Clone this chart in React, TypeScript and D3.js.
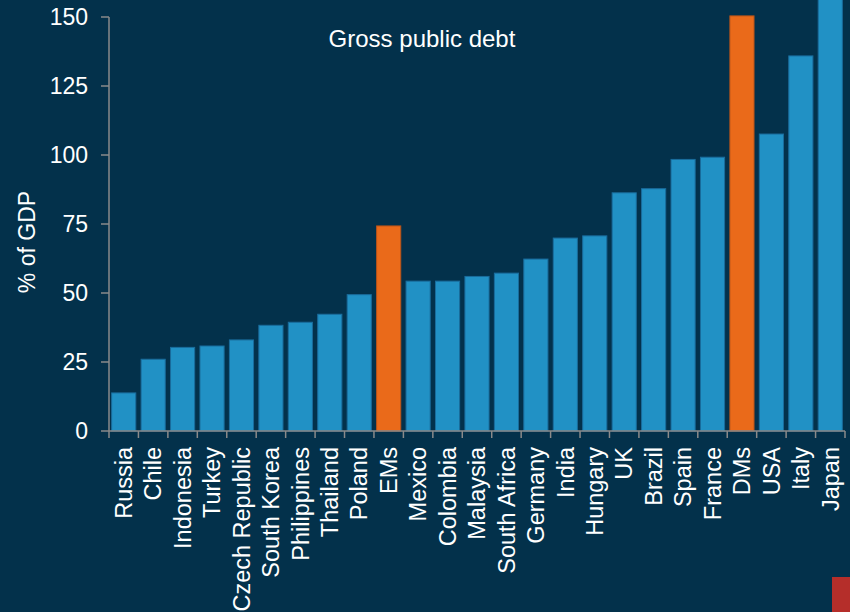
import React from "react";
import * as d3 from "d3";

const categories = ["Russia","Chile","Indonesia","Turkey","Czech Republic","South Korea","Philippines","Thailand","Poland","EMs","Mexico","Colombia","Malaysia","South Africa","Germany","India","Hungary","UK","Brazil","Spain","France","DMs","USA","Italy","Japan"];
const values = [13.8,26.0,30.3,30.8,33.0,38.3,39.4,42.3,49.4,74.3,54.3,54.3,56.0,57.2,62.3,69.9,70.7,86.3,87.8,98.4,99.2,150.4,107.6,135.9,236];
const highlighted = ["EMs","DMs"];
const yTicks = [0,25,50,75,100,125,150];
const title = "Gross public debt";
const yLabel = "% of GDP";

const W = 850, H = 612;
const BG = "#03314b";
const BLUE = "#2191c5";
const ORANGE = "#ea6a1a";
const AXIS = "#8a8a8a";
const FONT = "'Liberation Sans', Arial, sans-serif";

export default function App() {
  const x = d3.scaleBand<string>().domain(categories).range([109, 845]).paddingInner(0.18).paddingOuter(0.09);
  const y = d3.scaleLinear().domain([0, 150]).range([431, 17]);
  const step = x.step();
  const boundaries = categories.map((c) => (x(c) as number) - (step - x.bandwidth()) / 2);
  boundaries.push(845);
  return (
    <svg width={W} height={H} style={{ position: "absolute", left: 0, top: 0, display: "block" }} fontFamily={FONT}>
      <rect x={0} y={0} width={W} height={H} fill={BG} />
      {categories.map((c, i) => {
        const v = values[i];
        const top = y(v);
        return (
          <rect key={c} x={x(c)} y={top} width={x.bandwidth()} height={y(0) - top}
            fill={highlighted.includes(c) ? ORANGE : BLUE}
            stroke={highlighted.includes(c) ? "#b8531a" : "#1a6c9c"} strokeWidth={1} />
        );
      })}
      {/* y axis */}
      <line x1={109} x2={109} y1={y(150)} y2={y(0)} stroke={AXIS} strokeWidth={1.5} />
      {yTicks.map((t) => (
        <g key={t} transform={`translate(0,${y(t)})`}>
          <line x1={101} x2={109} stroke={AXIS} strokeWidth={1.5} />
          <text x={88} dy="0.35em" textAnchor="end" fill="#ffffff" fontSize={23}>{t}</text>
        </g>
      ))}
      {/* x axis */}
      <line x1={109} x2={845} y1={y(0)} y2={y(0)} stroke={AXIS} strokeWidth={1.5} />
      {boundaries.map((b, i) => (
        <line key={i} x1={b} x2={b} y1={y(0)} y2={y(0) + 7} stroke={AXIS} strokeWidth={1.5} />
      ))}
      {categories.map((c) => (
        <text key={c} transform={`translate(${(x(c) as number) + x.bandwidth() / 2},447) rotate(-90)`}
          dy="0.35em" textAnchor="end" fill="#ffffff" fontSize={23.5}>{c}</text>
      ))}
      <text transform={`translate(27,242) rotate(-90)`} dy="0.35em" textAnchor="middle" fill="#ffffff" fontSize={23}>{yLabel}</text>
      <text x={422} y={47} textAnchor="middle" fill="#ffffff" fontSize={24}>{title}</text>
      <rect x={832} y={577} width={18} height={35} fill="#b52e2a" />
    </svg>
  );
}
